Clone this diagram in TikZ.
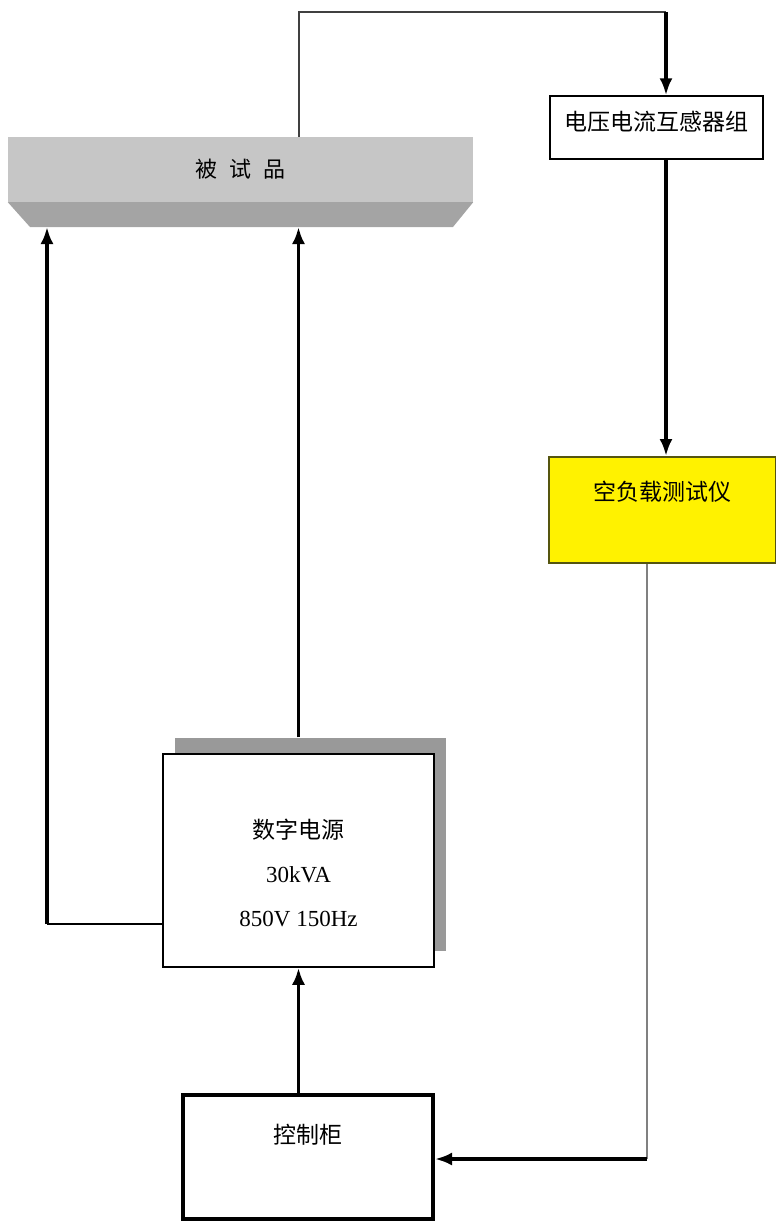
\documentclass[tikz,border=0pt]{standalone}
\usepackage{fontspec}
\setmainfont{Liberation Serif}
\newfontfamily\cjk{Noto Sans CJK SC}
\usetikzlibrary{arrows.meta,positioning,shadows}

\definecolor{dutface}{HTML}{C6C6C6}
\definecolor{dutbevel}{HTML}{A4A4A4}
\definecolor{meterline}{HTML}{55550F}
\definecolor{wiregray}{HTML}{404040}

\begin{document}
\begin{tikzpicture}[x=1pt, y=-1pt,
  box/.style={rectangle, draw, line width=1.5pt, inner sep=0pt,
              font=\cjk\fontsize{23}{26}\selectfont},
  dutbox/.style={rectangle, fill=dutface, inner sep=0pt,
                 minimum width=465pt, minimum height=65pt,
                 font=\cjk\fontsize{22}{26}\selectfont},
  meterbox/.style={box, fill=yellow, draw=meterline, line width=2pt},
  psubox/.style={box, fill=white, align=center, font=\fontsize{23}{44}\selectfont,
                 drop shadow={shadow xshift=12pt, shadow yshift=16pt,
                              fill=gray!80, opacity=1}},
  cabbox/.style={box, line width=4pt},
  arr/.style={-{Latex[length=17pt, width=13pt]}, line width=3.5pt},
  wire/.style={line width=2pt, wiregray},
  gwire/.style={line width=2pt, gray}
]
\useasboundingbox (0,0) rectangle (776,1223);

% units
\node[dutbox] (dut) at (240.5,169.5) {被\hspace{12pt}试\hspace{12pt}品};
\fill[dutbevel] (dut.south west) -- (dut.south east) -- (453,227) -- (30,227) -- cycle;
\coordinate (base) at (240,227);

\node[box, minimum width=213pt, minimum height=63pt, text depth=13.8pt]
  (ct) at (656.5,127.5) {电压电流互感器组};
\node[meterbox, minimum width=227pt, minimum height=106pt, text depth=38.8pt]
  (meter) at (662.5,510) {空负载测试仪};
\node[psubox, minimum width=271pt, minimum height=213pt, text height=134pt, text depth=3pt]
  (psu) at (298.5,860.5) {{\cjk 数字电源}\\30kVA\\850V 150Hz};
\node[cabbox, minimum width=250pt, minimum height=124pt, text depth=46.8pt]
  (cab) at (308,1157) {控制柜};

% bends
\coordinate (topbend) at (666,12);
\coordinate (lowbend) at (647,1159);
\coordinate (leftbend) at (47,924);

% connections
\draw[wire] (dut.north -| psu.north) |- (topbend);
\draw[arr] (topbend) -- (topbend |- ct.north);
\draw[arr] (ct.south -| topbend) -- (meter.north -| topbend);
\draw[gwire] (meter.south -| lowbend) -- (lowbend);
\draw[arr] (lowbend) -- (cab.east |- lowbend);
\draw[arr] (cab.north -| psu.south) -- (psu.south);
\draw[arr] ([yshift=16pt]psu.north) -- (psu.north |- base);
\draw[wire, black] (psu.west |- leftbend) -- (leftbend);
\draw[arr] (leftbend) -- (leftbend |- base);
\end{tikzpicture}
\end{document}
